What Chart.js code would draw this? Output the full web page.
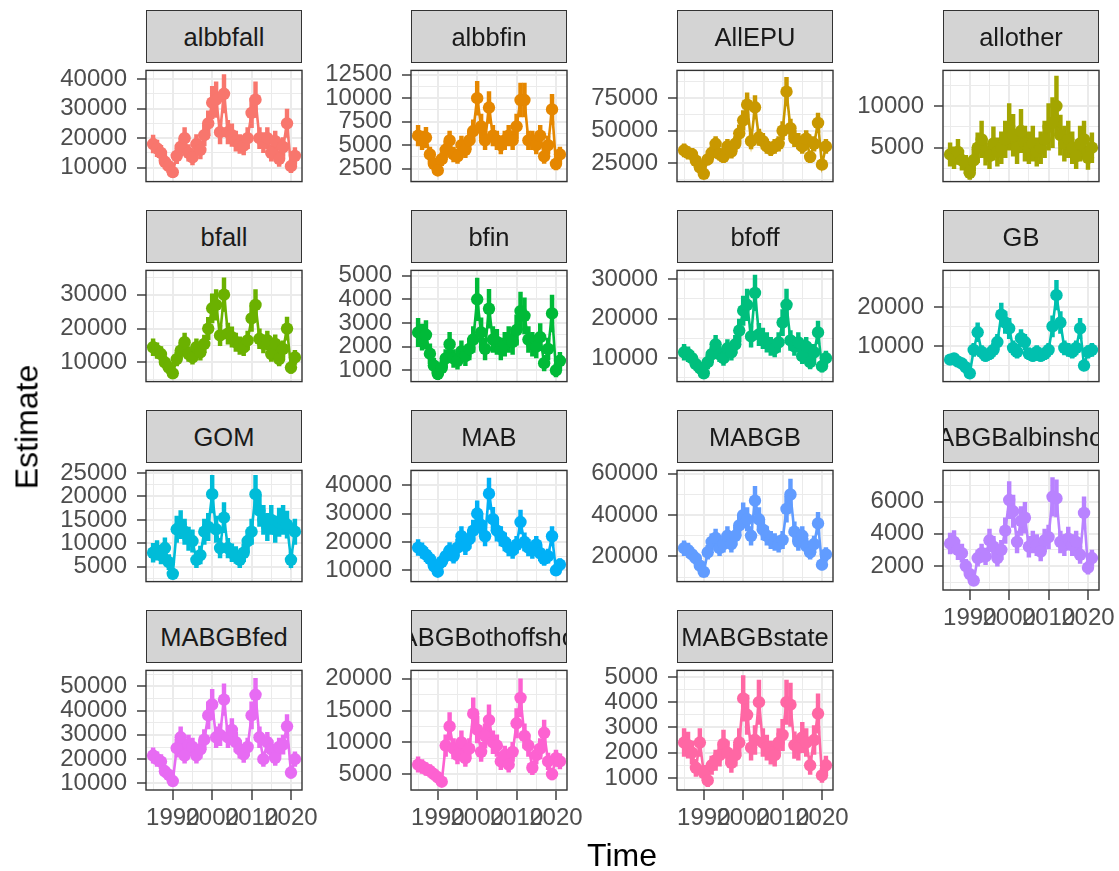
<!DOCTYPE html>
<html><head><meta charset="utf-8">
<script src="https://cdn.jsdelivr.net/npm/chart.js@4.4.1/dist/chart.umd.min.js"></script>
<style>
html,body{margin:0;padding:0;background:#fff;}
#wrap{position:relative;width:1119px;height:871px;overflow:hidden;font-family:"Liberation Sans",Arial,sans-serif;background:#fff;}
canvas{position:absolute;}
.strip{position:absolute;box-sizing:border-box;background:#D4D4D4;border:1.4px solid #333;overflow:hidden;z-index:2;}
.strip span{position:absolute;left:50%;top:50%;transform:translate(-50%,-50%);white-space:nowrap;font-size:25.5px;color:#1A1A1A;}
.title{position:absolute;font-size:32px;color:#000;white-space:nowrap;transform:translate(-50%,-50%);}
</style></head><body><div id="wrap"></div>
<script>
// ---------------- data ----------------
const years=[1985,1986,1987,1988,1989,1990,1991,1992,1993,1994,1995,1996,1997,1998,1999,2000,2001,2002,2003,2004,2005,2006,2007,2008,2009,2010,2011,2012,2013,2014,2015,2016,2017,2018,2019,2020,2021];
const xMajorTicks=[1990,2000,2010,2020];
const xMinorTicks=[1985,1995,2005,2015];
const panels=["albbfall","albbfin","AllEPU","allother","bfall","bfin","bfoff","GB","GOM","MAB","MABGB","MABGBalbinshore","MABGBfed","MABGBothoffshore","MABGBstate"];

const est_albbfall=[18000,16500,15000,12000,10500,8500,14000,17000,20000,15000,13500,18000,16000,21000,25000,32000,33000,22000,35000,22000,21000,19000,18000,17500,20000,28500,33000,20000,18500,20000,15000,19000,13000,17000,25000,10500,14000];
const err_albbfall=[3000,2800,2600,2400,2200,1800,2600,3000,3600,2800,2600,3200,3000,3600,4200,5500,6000,4000,6500,4000,3800,3400,3200,3200,3600,5000,6000,3600,3400,3600,2800,3400,2600,3200,4800,2200,2800];
const est_albbfin=[6000,5500,5800,4000,3000,2300,3500,4500,5500,4000,3800,5000,4500,5500,6500,10000,7000,5500,9000,6000,5500,5000,5500,6000,5500,7000,9800,9800,5500,5500,5000,6000,3800,5000,8800,3000,4000];
const err_albbfin=[1100,1000,1100,800,650,500,700,900,1000,800,750,950,850,1000,1200,1800,1300,1000,1700,1100,1000,950,1000,1100,1000,1300,1800,1800,1000,1000,950,1100,750,950,1600,650,800];
const est_AllEPU=[35000,33000,32000,27000,22000,17000,28000,33000,40000,32000,30000,38000,34000,40000,48000,58000,70000,42000,68000,45000,42000,38000,36000,38000,40000,50000,80000,52000,44000,42000,38000,44000,30000,40000,56000,24000,38000];
const err_AllEPU=[5000,4800,4600,4000,3500,3000,4200,4800,5600,4600,4400,5400,5000,5600,6500,7500,9000,6000,9000,6200,6000,5400,5200,5400,5600,7000,11000,7000,6200,6000,5400,6200,4400,5600,7500,3800,5400];
const est_allother=[4200,3800,4500,3500,3000,2000,3500,5000,6000,4500,4000,5500,4500,5000,6000,7500,6500,5000,7000,5500,5000,5500,4500,5000,6000,7500,8000,10000,6500,5500,6000,5000,4000,5500,6000,3800,5000];
const err_allother=[1400,1300,1500,1200,1100,800,1300,1800,2200,1600,1500,2000,1700,1900,2200,2800,2500,1900,2600,2100,1900,2100,1700,1900,2200,2800,3000,3600,2400,2100,2200,1900,1500,2100,2200,1400,1800];
const est_bfall=[14500,13500,12500,10000,8500,6800,11000,13500,16000,12500,11500,14500,13000,15500,20000,26000,27000,18000,30000,18500,17500,16000,15000,14500,16500,23000,27000,17000,15500,16500,12500,15500,11000,14000,20000,8500,11500];
const err_bfall=[2500,2300,2200,1900,1700,1400,2000,2300,2700,2200,2000,2500,2300,2600,3300,4300,4500,3000,5000,3100,3000,2700,2600,2500,2800,3800,4500,2900,2700,2800,2200,2700,2000,2400,3400,1700,2100];
const est_bfin=[2600,2400,2500,1700,1200,850,1100,1500,2100,1500,1400,1800,1600,1900,2300,4000,2600,1900,3600,2300,2200,1900,2100,2300,2200,2700,3500,3300,2300,2100,2000,2400,1300,1900,3400,1000,1400];
const err_bfin=[600,550,600,420,320,250,300,380,500,380,350,440,400,460,550,900,620,460,820,550,530,460,500,550,530,640,800,760,550,500,480,570,330,460,780,280,360];
const est_bfoff=[11500,11000,10000,8500,7500,6200,9000,11000,13500,11000,10000,12500,11500,13500,17000,22000,23500,15500,26500,16000,15000,14000,13000,12500,14000,19000,23500,14500,13000,14000,10500,13000,9000,11500,16500,8000,10000];
const err_bfoff=[2000,1900,1800,1600,1400,1200,1700,1900,2300,1900,1800,2200,2000,2300,2900,3700,4000,2700,4500,2800,2600,2500,2300,2200,2500,3300,4000,2500,2300,2500,1900,2300,1700,2000,2900,1500,1800];
const est_GB=[6500,6800,6000,5500,4500,3000,9000,13500,8500,7500,8000,9000,11000,18000,16000,14500,9500,8500,12000,11000,8000,7500,8500,7500,8000,9000,15000,23000,16000,9500,9000,8500,9500,14500,5000,8500,9000];
const err_GB=[1200,1300,1200,1100,1000,800,1700,2400,1600,1400,1500,1700,2000,3000,2800,2600,1800,1600,2200,2000,1500,1400,1600,1400,1500,1700,2700,3800,2800,1800,1700,1600,1800,2600,1100,1600,1700];
const est_GOM=[8000,8500,7500,9000,6000,3500,13000,14000,12500,11000,10500,6500,7500,12500,13500,20500,13000,9000,15500,9000,8000,7500,6500,8000,10500,12500,20500,17000,15000,13500,15000,13000,14500,15000,14000,6500,12500];
const err_GOM=[2000,2100,1900,2200,1600,1100,2800,3000,2700,2500,2400,1700,1900,2700,2900,4000,2800,2100,3200,2100,1900,1800,1700,1900,2400,2700,4000,3400,3100,2900,3100,2800,3000,3100,2900,1700,2700];
const est_MAB=[18000,17000,15500,14000,11500,9500,13000,15000,17000,15000,18000,22000,18500,21000,24000,30000,26000,22000,37000,28000,24000,22000,20000,18000,17000,19000,27000,20000,18000,17000,19000,16000,14000,15000,22000,10000,12000];
const err_MAB=[2800,2700,2500,2300,2000,1700,2200,2500,2800,2500,2900,3400,3000,3300,3700,4500,4000,3400,5500,4200,3700,3400,3200,2900,2800,3000,4200,3200,2900,2800,3000,2600,2300,2500,3400,1800,2100];
const est_MABGB=[24000,23000,21000,19000,15500,12500,22000,27000,29000,24000,26000,30000,26000,30000,35000,40000,38000,30000,47000,38000,33000,30000,28000,27000,26000,28000,43000,50000,32000,27000,30000,25000,22000,26000,36000,16000,21000];
const err_MABGB=[3600,3500,3200,3000,2600,2200,3400,4000,4300,3600,3900,4500,3900,4500,5200,6000,5700,4500,7000,5700,5000,4500,4200,4100,3900,4200,6400,7500,4800,4100,4500,3800,3300,3900,5400,2600,3300];
const est_MABGBalbinshore=[3400,3500,3000,2800,2000,1500,1100,2500,2800,2600,3600,3200,2500,3000,4200,6100,5400,3500,4800,5000,3200,3500,3300,2900,3600,3800,6300,6200,3500,3300,3700,3300,3500,2700,5300,1900,2500];
const err_MABGBalbinshore=[650,700,600,560,420,330,260,500,560,520,700,640,500,600,800,1150,1000,680,900,950,640,680,650,580,700,740,1200,1150,680,650,720,650,680,540,1000,400,500];
const est_MABGBfed=[21500,20000,19000,15000,13500,11000,24500,29000,21500,26000,25000,21500,24000,28000,38000,42500,29000,30000,44500,29000,32000,27000,24000,22000,25000,38000,46500,29000,20000,27000,24000,20500,25000,26000,33500,14500,20000];
const err_MABGBfed=[3200,3000,2900,2400,2200,1900,3700,4300,3200,3900,3700,3200,3600,4200,5600,6200,4300,4500,6500,4300,4700,4000,3600,3300,3700,5600,6800,4300,3000,4000,3600,3100,3700,3900,4900,2300,3000];
const est_MABGBothoffshore=[6500,6200,5800,5500,5000,4500,3800,9500,12500,9000,8000,10000,7500,9000,14500,12000,8500,11000,13500,10000,9500,7000,8000,6500,8500,13000,17000,11000,9500,6000,8000,9000,11500,7000,5000,7500,7000];
const err_MABGBothoffshore=[1200,1100,1000,1000,900,800,700,1700,2200,1600,1400,1800,1300,1600,2500,2100,1500,1900,2400,1800,1700,1300,1400,1200,1500,2300,3000,1900,1700,1100,1400,1600,2000,1300,900,1300,1200];
const est_MABGBstate=[2400,2300,2000,1400,2400,1200,900,1500,1700,1900,2350,2000,1600,1900,2400,4150,3500,2200,2500,4000,2400,2200,2000,1900,2400,2700,4000,3900,2300,2200,2600,2400,1500,2500,3550,1100,1500];
const err_MABGBstate=[550,520,460,340,550,300,250,360,400,440,540,460,380,440,550,900,780,500,570,880,550,500,460,440,550,620,880,860,530,500,600,550,360,570,780,280,360];

const estimates=[est_albbfall,est_albbfin,est_AllEPU,est_allother,est_bfall,est_bfin,est_bfoff,est_GB,est_GOM,est_MAB,est_MABGB,est_MABGBalbinshore,est_MABGBfed,est_MABGBothoffshore,est_MABGBstate];
const errors=[err_albbfall,err_albbfin,err_AllEPU,err_allother,err_bfall,err_bfin,err_bfoff,err_GB,err_GOM,err_MAB,err_MABGB,err_MABGBalbinshore,err_MABGBfed,err_MABGBothoffshore,err_MABGBstate];

// y-axis limits and tick step per panel
const yMin=[5300,1110,11000,940,4360,522,4090,890,1850,6000,7790,514,7300,2500,520];
const yMax=[42900,12960,96300,14270,37180,5220,32190,29330,25560,45230,61680,7940,56540,21320,5260];
const yStep=[10000,2500,25000,5000,10000,1000,10000,10000,5000,10000,20000,2000,10000,5000,1000];
const xMin=1983.2, xMax=2022.8;

// ---------------- style / layout ----------------
const palette=["#F8766D","#E58700","#C99800","#A3A500","#6BB100","#00BA38","#00BF7D","#00C0AF","#00BCD8","#00B0F6","#619CFF","#B983FF","#E76BF3","#FD61D1","#FF67A4"];
const FONT="'Liberation Sans', Arial, sans-serif";
const colLeft=[146,411,677,943], rowTop=[10,210,410,610];
const panelW=156, panelH=128, stripH=52;
const PADL=110, PADR=30, PADT=16, PADB=16, XAX=46;

const frame={id:'frame',afterDatasetsDraw(ch){const a=ch.chartArea,c=ch.ctx;c.save();c.strokeStyle='#333333';c.lineWidth=1.4;c.strokeRect(a.left,a.top,a.right-a.left,a.bottom-a.top);c.restore();}};

const wrap=document.getElementById('wrap');
panels.forEach((name,i)=>{
  const r=Math.floor(i/4), c=i%4;
  const left=colLeft[c], stripTop=rowTop[r], top=stripTop+stripH;
  const bottom=(i>=11);
  const w=PADL+panelW+PADR, h=PADT+panelH+(bottom?XAX:PADB);
  const cv=document.createElement('canvas');
  cv.width=w; cv.height=h;
  cv.style.left=(left-PADL)+'px'; cv.style.top=(top-PADT)+'px';
  cv.style.width=w+'px'; cv.style.height=h+'px';
  wrap.appendChild(cv);

  const strip=document.createElement('div');
  strip.className='strip';
  strip.style.left=left+'px'; strip.style.top=stripTop+'px';
  strip.style.width=panelW+'px'; strip.style.height=(stripH+1)+'px';
  const sp=document.createElement('span'); sp.textContent=name; strip.appendChild(sp);
  wrap.appendChild(strip);

  const col=palette[i], est=estimates[i], err=errors[i];
  const mjW=ctx=>(ctx.tick&&ctx.tick.mj)?2:1;
  const tkC=ctx=>(ctx.tick&&ctx.tick.mj)?'#333333':'rgba(0,0,0,0)';
  new Chart(cv,{
    type:'line',
    data:{datasets:[
      {type:'bar',data:years.map((y,k)=>({x:y,y:[est[k]-err[k],est[k]+err[k]]})),backgroundColor:col,borderWidth:0,barThickness:3.8,grouped:false,order:2},
      {type:'line',data:years.map((y,k)=>({x:y,y:est[k]})),borderColor:col,backgroundColor:col,borderWidth:2.6,pointRadius:6.2,pointBorderWidth:0,pointBackgroundColor:col,tension:0,order:1}
    ]},
    options:{
      responsive:false,animation:false,devicePixelRatio:1,
      layout:{padding:{left:0,right:PADR,top:PADT,bottom:bottom?0:PADB}},
      plugins:{legend:{display:false},tooltip:{enabled:false}},
      scales:{
        x:{type:'linear',min:xMin,max:xMax,bounds:'data',offset:false,
          afterBuildTicks:s=>{const t=[];xMinorTicks.concat(xMajorTicks).sort((a,b)=>a-b).forEach(v=>t.push({value:v,mj:xMajorTicks.includes(v)}));s.ticks=t;},
          afterFit:s=>{s.height=bottom?XAX:0;s.paddingLeft=0;s.paddingRight=0;},
          border:{display:false},
          grid:{offset:false,color:'#EBEBEB',lineWidth:mjW,drawTicks:bottom,tickLength:10,tickColor:tkC,tickWidth:1.4},
          ticks:{display:bottom,autoSkip:false,maxRotation:0,minRotation:0,padding:4,color:'#4D4D4D',font:{family:FONT,size:24},
            callback:(v,idx,ts)=>ts[idx]&&ts[idx].mj?String(v):''}
        },
        y:{type:'linear',min:yMin[i],max:yMax[i],bounds:'data',
          afterBuildTicks:s=>{const hs=yStep[i]/2,t=[];for(let v=Math.ceil(yMin[i]/hs)*hs;v<=yMax[i];v+=hs){t.push({value:v,mj:Math.round(v/hs)%2===0});}s.ticks=t;},
          afterFit:s=>{s.width=PADL;},
          border:{display:false},
          grid:{color:'#EBEBEB',lineWidth:mjW,drawTicks:true,tickLength:9,tickColor:tkC,tickWidth:1.4},
          ticks:{autoSkip:false,padding:10,color:'#4D4D4D',font:{family:FONT,size:24},
            callback:(v,idx,ts)=>ts[idx]&&ts[idx].mj?String(v):''}
        }
      }
    },
    plugins:[frame]
  });
});

const yt=document.createElement('div'); yt.className='title'; yt.textContent='Estimate';
yt.style.left='27px'; yt.style.top='427px'; yt.style.transform='translate(-50%,-50%) rotate(-90deg)';
wrap.appendChild(yt);
const xt=document.createElement('div'); xt.className='title'; xt.textContent='Time';
xt.style.left='622px'; xt.style.top='855px';
wrap.appendChild(xt);
</script></body></html>
